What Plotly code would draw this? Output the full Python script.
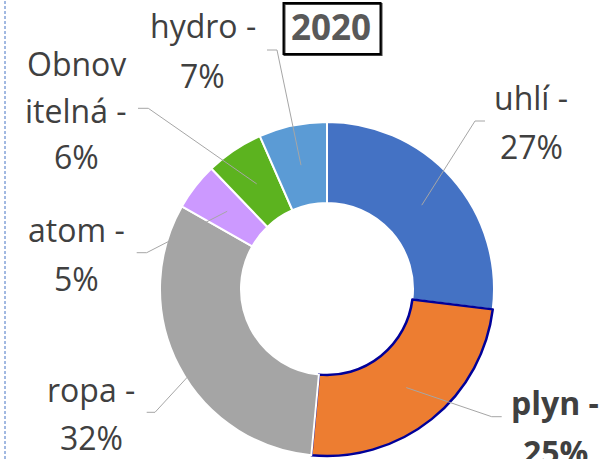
import math
import plotly.graph_objects as go

# ---- data ----
categories = ["uhlí", "plyn", "ropa", "atom", "Obnovitelná", "hydro"]
values = [27.0, 24.6, 31.8, 4.6, 5.6, 6.6]
pct_labels = ["27%", "25%", "32%", "5%", "6%", "7%"]
label_lines = [
    ["uhlí -", "27%"],
    ["plyn -", "25%"],
    ["ropa -", "32%"],
    ["atom -", "5%"],
    ["Obnov", "itelná -", "6%"],
    ["hydro -", "7%"],
]
colors = ["#4472C4", "#ED7D31", "#A5A5A5", "#CC99FF", "#5CB31F", "#5B9BD5"]
title_text = "2020"

W, H = 606, 459
def px(x): return x / W
def py(y): return 1 - y / H

# pie geometry (pixels)
CX, CY, R, HOLE = 327, 289, 167, 0.515

fig = go.Figure()
fig.add_trace(go.Pie(
    labels=categories, values=values, sort=False, direction="clockwise",
    rotation=0, hole=HOLE, textinfo="none", hoverinfo="label+percent",
    marker=dict(colors=colors,
                line=dict(color=["white", "#000099", "white", "white", "white", "white"],
                          width=[2, 2.5, 2, 2, 2, 2])),
    domain=dict(x=[px(CX - R), px(CX + R)], y=[py(CY + R), py(CY - R)]),
    showlegend=False,
))

# label layout: center x, first baseline, line spacing, bold, leader horizontal tick
label_layout = [
    dict(x=531, y0=110, dy=48.5, bold=False, hx=(485, 475), hy=121),
    dict(x=555, y0=415, dy=48.5, bold=True, hx=(501.7, 491.7), hy=416.7),
    dict(x=91, y0=401.7, dy=48.3, bold=False, hx=(146.7, 155), hy=412.3),
    dict(x=76.7, y0=241.7, dy=49, bold=False, hx=(136.7, 146.7), hy=252.7),
    dict(x=76, y0=76, dy=46.7, bold=False, hx=(138, 148.3), hy=108.3),
    dict(x=202.5, y0=37.5, dy=50, bold=False, hx=(267, 277), hy=50),
]

FS = 32
total = sum(values)
cum = 0.0
shapes = []
annotations = []
rmid = R * (1 + HOLE) / 2
for i, v in enumerate(values):
    mid = (cum + v / 2) / total * 2 * math.pi
    cum += v
    ex = CX + rmid * math.sin(mid)
    ey = CY - rmid * math.cos(mid)
    L = label_layout[i]
    path = "M {} {} L {} {} L {} {}".format(
        px(L["hx"][0]), py(L["hy"]), px(L["hx"][1]), py(L["hy"]), px(ex), py(ey))
    shapes.append(dict(type="path", path=path, xref="paper", yref="paper",
                       line=dict(color="#A6A6A6", width=1), layer="above"))
    for j, t in enumerate(label_lines[i]):
        base = L["y0"] + j * L["dy"]
        txt = "<b>" + t + "</b>" if L["bold"] else t
        annotations.append(dict(
            text=txt, x=px(L["x"]), y=py(base - 0.388 * FS), xref="paper", yref="paper",
            xanchor="center", yanchor="middle", showarrow=False,
            font=dict(family="Open Sans", size=FS, color="#404040")))

# title box (with slight shadow on bottom/right)
shapes.append(dict(type="rect", xref="paper", yref="paper",
                   x0=px(284.5), x1=px(381.5), y0=py(55), y1=py(4),
                   line=dict(color="#404040", width=2)))
shapes.append(dict(type="rect", xref="paper", yref="paper",
                   x0=px(283.5), x1=px(380.5), y0=py(54), y1=py(3),
                   line=dict(color="#000000", width=2)))
annotations.append(dict(
    text="<b>" + title_text + "</b>", x=px(331), y=py(40 - 0.388 * 35),
    xref="paper", yref="paper", xanchor="center", yanchor="middle", showarrow=False,
    font=dict(family="Open Sans", size=35, color="#595959")))

# dashed left border
shapes.append(dict(type="line", xref="paper", yref="paper",
                   x0=px(5), x1=px(5), y0=0, y1=1,
                   line=dict(color="#4472C4", width=1, dash="3px,2px")))

fig.update_layout(
    width=W, height=H, margin=dict(l=0, r=0, t=0, b=0),
    paper_bgcolor="white", plot_bgcolor="white",
    shapes=shapes, annotations=annotations,
)
fig.write_html("out.html", config={"displayModeBar": False},
               post_script="document.body.style.margin='0';")
